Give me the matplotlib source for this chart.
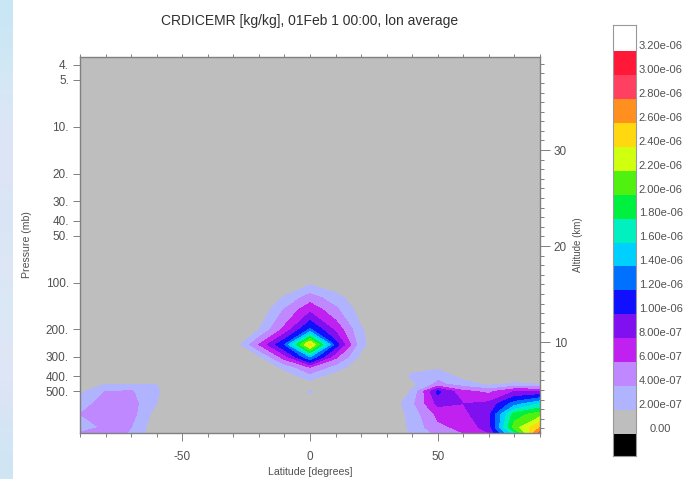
import numpy as np
import matplotlib
matplotlib.use('Agg')
import matplotlib.pyplot as plt
from matplotlib.colors import ListedColormap, BoundaryNorm

plt.rcParams['font.family'] = ['Liberation Sans', 'DejaVu Sans']

W, H = 691, 479

# grid, latitude every 10 deg, values in 1e-7 kg/kg
lat = [-90,-80,-70,-60,-50,-40,-30,-20,-10,0,10,20,30,40,50,60,70,80,90]
pres = [90,100,125,150,200,250,300,350,400,450,500,600,700,850,925]

p090  = [0,0,0,0,0,0,0,0,0,0,0,0,0,0,0,0,0,0,0]
p100  = [0,0,0,0,0,0,0,0,0.3,1.5,0.5,0,0,0,0,0,0,0,0]
p125  = [0,0,0,0,0,0,0,0,2.2,5,2.8,0.5,0,0,0,0,0,0,0]
p150  = [0,0,0,0,0,0,0,0.3,4.2,7.5,4.5,1.0,0,0,0,0,0,0,0]
p200  = [0,0,0,0,0,0,0,2,6.5,12.3,7.5,2.2,0,0,0,0,0,0,0]
p250  = [0,0,0,0,0,0,0.3,6,12,25,11,2.5,0,0,0,0,0,0,0]
p300  = [0,0,0,0,0,0,0,1.5,7,14,6.5,1.5,0,0,0,0,0,0,0]
p350  = [0,0,0,0,0,0,0,0.3,2.5,6,3,0.5,0,1.5,1.5,0,0,0,0]
p400  = [0,0,0,0,0,0,0,0,0.8,3,0.8,0,0,2.3,3.5,1.2,0.3,0,0]
p450  = [1,2,2,2,0.5,0,0,0,0,1,0,0,0,1.5,4.5,3,1.5,2.5,2]
p500  = [1.5,4,4.2,2.2,0.3,0,0,0,0,2.2,0,0,0,2.2,10.5,6.5,5.5,8,8]
p600  = [3.2,4.8,4.8,2,0,0,0,0,0,0.5,0,0,0,3.5,8.5,8,8.5,13,16]
p700  = [4,4.8,4.8,1,0,0,0,0,0,0,0,0,0,2.8,6.5,7.5,9.5,19,21]
p850  = [2.5,4.5,4,0.5,0,0,0,0,0,0,0,0,0,2.5,5.5,6.5,9,21,26]
p925  = [4.2,4.5,3.9,0.5,0,0,0,0,0,0,0,0,0,2.2,4.5,6,8,17,29]

levels = [-1,2,4,6,8,10,12,14,16,18,20,22,24,26,28,30,32]
box_colors = ['#000000','#bebebe','#b0b4ff','#c088ff','#c020f0','#8010f0','#1010ff',
              '#0070ff','#00d0ff','#00f0c0','#00f040','#50f010','#d0ff10','#ffd810',
              '#ff9020','#ff4060','#ff1838','#ffffff']
box_labels = ['0.00','2.00e-07','4.00e-07','6.00e-07','8.00e-07','1.00e-06','1.20e-06',
              '1.40e-06','1.60e-06','1.80e-06','2.00e-06','2.20e-06','2.40e-06','2.60e-06',
              '2.80e-06','3.00e-06','3.20e-06']

p_ticks = [4,5,10,20,30,40,50,100,200,300,400,500]
lat_ticks = [-50,0,50]
alt_ticks = [10,20,30]
strip_colors = ['#c9e6f4','#d3e8f5','#dbe6f6','#e0e4f6','#d6e6f6','#dfe6f6','#d8e8f5','#e2e6f7','#d9e4f5','#cfe6f4']

text_col = '#505050'
axis_col = '#808080'


def axpx(x0, y0, x1, y1):
    # axes from pixel box, y measured from the top
    return fig.add_axes([x0/W, 1-y1/H, (x1-x0)/W, (y1-y0)/H])


fig = plt.figure(figsize=(W/100, H/100), dpi=100)

# pale strip down the left edge
ax0 = axpx(0, 0, 12, H)
ax0.imshow(np.array([[matplotlib.colors.to_rgb(c)] for c in strip_colors]), aspect='auto', interpolation='bicubic')
ax0.axis('off')

# main plot
ax = axpx(80, 57, 540, 433)
cmap = ListedColormap(box_colors[1:-1])
norm = BoundaryNorm(levels, cmap.N)
Z = np.array([p090,p100,p125,p150,p200,p250,p300,p350,p400,p450,p500,p600,p700,p850,p925])
ax.set_facecolor(box_colors[1])
ax.contourf(lat, pres, Z, levels=levels, cmap=cmap, norm=norm)
ax.set_yscale('log')
ax.set_xlim(-90, 90)
ax.set_ylim(925, 3.56)
ax.set_yticks(p_ticks)
ax.set_yticklabels([str(p)+'.' for p in p_ticks])
ax.minorticks_off()
ax.set_xticks(lat_ticks)
ax.set_xticklabels([str(v) for v in lat_ticks])
ax.set_xticks(np.arange(-90,91,10), minor=True)
ax.tick_params(axis='x', which='major', length=6, width=0.7, color=axis_col, labelsize=8.5, labelcolor=text_col, pad=7)
ax.tick_params(axis='x', which='minor', length=3, width=0.7, color=axis_col)
ax.tick_params(axis='y', which='major', length=5, width=0.7, color=axis_col, labelsize=8.5, labelcolor=text_col, pad=3)
ax.set_xlabel('Latitude [degrees]', fontsize=7.6, color=text_col, labelpad=3)
ax.set_ylabel('Pressure (mb)', fontsize=7.6, color=text_col, labelpad=10)
ax.set_title('CRDICEMR [kg/kg], 01Feb 1 00:00, lon average', fontsize=10, color='#303030', pad=23)
for s in ax.spines.values():
    s.set_color(axis_col)
    s.set_linewidth(1)

# altitude axis on the right, top ticks as well
ax2 = ax.twinx()
ax2.set_ylim(0.52, 39.7)
ax2.set_yticks(alt_ticks)
ax2.set_yticks(np.arange(1,40,1), minor=True)
ax2.tick_params(axis='y', which='major', length=7, width=0.7, color=axis_col, labelsize=8.5, labelcolor=text_col, pad=3)
ax2.tick_params(axis='y', which='minor', length=3, width=0.7, color=axis_col)
ax2.set_ylabel('Altitude (km)', fontsize=7, color=text_col, labelpad=4)
for s in ax2.spines.values():
    s.set_visible(False)
ax3 = ax.secondary_xaxis('top')
ax3.set_xticks(np.arange(-90,91,10))
ax3.set_xticklabels([])
ax3.tick_params(axis='x', length=2, width=0.7, color=axis_col)
ax3.spines['top'].set_visible(False)

# colour key
cax = axpx(613, 25, 636, 456)
cax.pcolormesh([0,1], np.arange(len(box_colors)+1), np.arange(len(box_colors)).reshape(-1,1),
               cmap=ListedColormap(box_colors), edgecolors='face')
cax.set_xticks([])
cax.yaxis.tick_right()
cax.set_yticks(np.arange(1,len(box_colors))-0.08)
cax.set_yticklabels(box_labels)
cax.tick_params(axis='y', length=0, labelsize=8, labelcolor=text_col, pad=2)
for lab in cax.get_yticklabels():
    lab.set_verticalalignment('bottom')
cax.get_yticklabels()[0].set_x(1.47)
for s in cax.spines.values():
    s.set_color('#999999')
    s.set_linewidth(0.8)

fig.savefig('out.png', dpi=100)
